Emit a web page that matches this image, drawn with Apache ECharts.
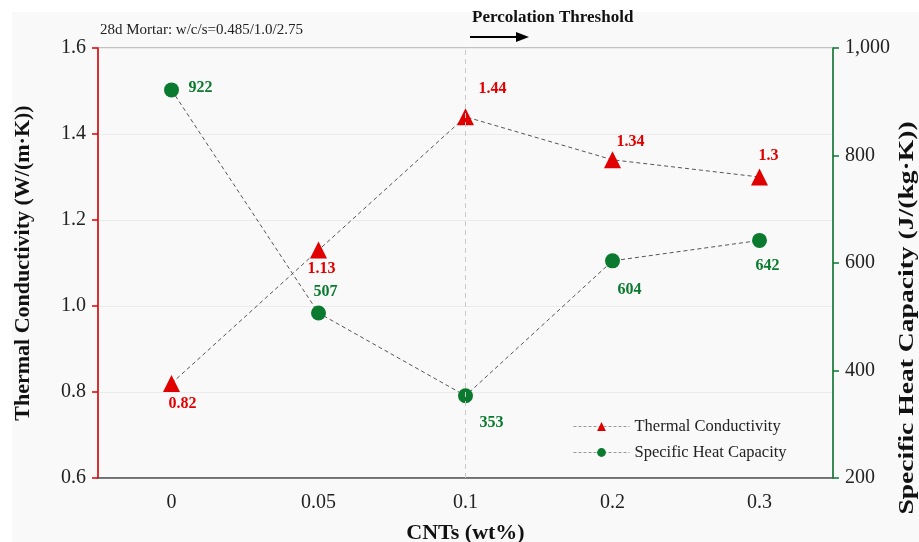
<!DOCTYPE html>
<html><head><meta charset="utf-8">
<script src="https://cdn.jsdelivr.net/npm/echarts@6/dist/echarts.min.js"></script>
<style>html,body{margin:0;padding:0;background:#fff}#c{width:919px;height:542px}</style>
</head><body><div id="c"></div>
<script>
var categories = ['0', '0.05', '0.1', '0.2', '0.3'];
var thermalConductivity = [0.82, 1.13, 1.44, 1.34, 1.3];
var specificHeat = [922, 507, 353, 604, 642];
var leftTicks = [0.6, 0.8, 1.0, 1.2, 1.4, 1.6];
var rightTicks = [200, 400, 600, 800, 1000];
var thresholdCategory = '0.1';

// label offsets (style only)
var tcOffsets = [[11, 20], [3, 19], [27, -28], [18, -18], [9, -21]];
var shOffsets = [[29, -2], [7, -21], [26, 27], [17, 29], [8, 25]];

var serif = '"Liberation Serif","DejaVu Serif",serif';
var RED = '#e00000', GREEN = '#0a7a2e';

function mkData(vals, offs) {
  return vals.map(function (v, i) {
    return { value: v, label: { offset: offs[i] } };
  });
}

var chart = echarts.init(document.getElementById('c'));
chart.setOption({
  backgroundColor: '#ffffff',
  animation: false,
  graphic: [
    { type: 'rect', z: -10, shape: { x: 12, y: 12, width: 907, height: 530 }, style: { fill: '#f9f9f9' }, silent: true },
    { type: 'text', x: 100, y: 30, style: { text: '28d Mortar: w/c/s=0.485/1.0/2.75', font: '15px ' + serif, fill: '#222', verticalAlign: 'middle' } },
    { type: 'text', x: 472, y: 18, style: { text: 'Percolation Threshold', font: 'bold 17px ' + serif, fill: '#111', verticalAlign: 'middle' } },
    { type: 'line', shape: { x1: 470, y1: 37, x2: 518, y2: 37 }, style: { stroke: '#000', lineWidth: 1.8 } },
    { type: 'polygon', shape: { points: [[516, 32], [529, 37], [516, 42]] }, style: { fill: '#000' } },
    { type: 'text', x: 908, y: 318, rotation: Math.PI / 2, scaleX: 1.38,
      style: { text: 'Specific Heat Capacity (J/(kg·K))', font: 'bold 20px ' + serif, fill: '#111', align: 'center', verticalAlign: 'middle' } }
  ],
  grid: { left: 98, right: 86, top: 48, bottom: 64, containLabel: false, outerBoundsMode: 'none',
          show: true, borderColor: '#8a8a8a', borderWidth: 1, backgroundColor: 'transparent' },
  legend: {
    orient: 'vertical', left: 568, top: 413, itemWidth: 56, itemHeight: 11, itemGap: 9,
    textStyle: { fontFamily: serif, fontSize: 16.5, color: '#222' },
    lineStyle: { color: '#999', width: 1, type: [3, 2] },
    data: ['Thermal Conductivity', 'Specific Heat Capacity']
  },
  xAxis: {
    type: 'category', data: categories, boundaryGap: true,
    name: 'CNTs (wt%)', nameLocation: 'middle', nameGap: 44,
    nameTextStyle: { fontFamily: serif, fontSize: 22, fontWeight: 'bold', color: '#111' },
    axisLine: { lineStyle: { color: '#555', width: 1.5 } },
    axisTick: { show: false },
    axisLabel: { margin: 15, fontFamily: serif, fontSize: 20, color: '#222' }
  },
  yAxis: [
    {
      type: 'value', min: leftTicks[0], max: leftTicks[leftTicks.length - 1], interval: 0.2,
      name: 'Thermal Conductivity (W/(m·K))', nameLocation: 'middle', nameGap: 64,
      nameTextStyle: { fontFamily: serif, fontSize: 22, fontWeight: 'bold', color: '#111' },
      axisLine: { show: true, lineStyle: { color: RED, width: 1.5 } },
      axisTick: { show: true, length: 6, lineStyle: { color: RED, width: 1.5 } },
      axisLabel: { margin: 12, fontFamily: serif, fontSize: 20, color: '#222', formatter: function (v) { return v.toFixed(1); } },
      splitLine: { show: true, lineStyle: { color: '#ebebeb', width: 1 } }
    },
    {
      type: 'value', min: rightTicks[0], max: rightTicks[rightTicks.length - 1], interval: 200, position: 'right',
      axisLine: { show: true, lineStyle: { color: GREEN, width: 1.5 } },
      axisTick: { show: true, length: 6, lineStyle: { color: GREEN, width: 1.5 } },
      axisLabel: { margin: 12, fontFamily: serif, fontSize: 20, color: '#222', formatter: function (v) { return v.toLocaleString('en-US'); } },
      splitLine: { show: false }
    }
  ],
  series: [
    {
      name: 'Thermal Conductivity', type: 'line', yAxisIndex: 0,
      data: mkData(thermalConductivity, tcOffsets),
      symbol: 'triangle', symbolSize: 17,
      itemStyle: { color: RED },
      lineStyle: { color: '#555', width: 1, type: [4, 3] },
      label: { show: true, position: 'inside', fontFamily: serif, fontSize: 16, fontWeight: 'bold', color: RED },
      markLine: {
        silent: true, symbol: ['none', 'none'], label: { show: false },
        lineStyle: { color: '#c8c8c8', type: [5, 4], width: 1 },
        data: [{ xAxis: thresholdCategory }]
      },
      z: 3
    },
    {
      name: 'Specific Heat Capacity', type: 'line', yAxisIndex: 1,
      data: mkData(specificHeat, shOffsets),
      symbol: 'circle', symbolSize: 15,
      itemStyle: { color: GREEN },
      lineStyle: { color: '#555', width: 1, type: [4, 3] },
      label: { show: true, position: 'inside', fontFamily: serif, fontSize: 16, fontWeight: 'bold', color: GREEN },
      z: 3
    }
  ]
});
</script></body></html>
